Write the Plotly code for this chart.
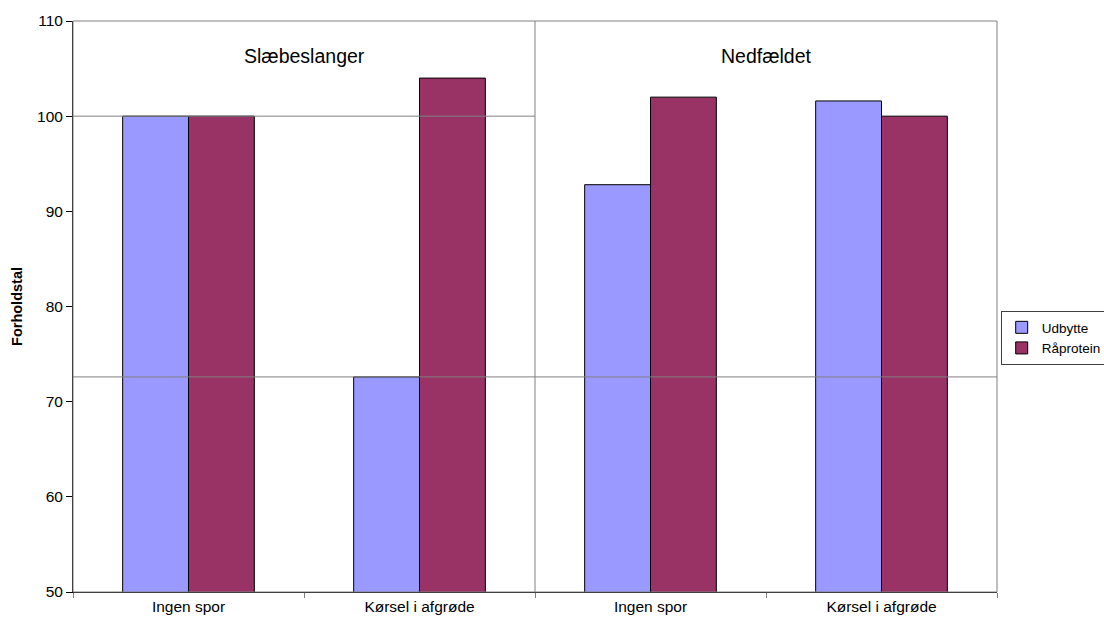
import plotly.graph_objects as go

categories = ["Ingen spor", "Kørsel i afgrøde", "Ingen spor", "Kørsel i afgrøde"]
groups = ["Slæbeslanger", "Nedfældet"]
udbytte = [100, 72.6, 92.8, 101.6]
raaprotein = [100, 104, 102, 100]
ref_lines = [100, 72.6]   # horizontal reference levels
y_ticks = [50, 60, 70, 80, 90, 100, 110]

xpos = list(range(len(categories)))
FONT = "Liberation Sans, Arial, sans-serif"

fig = go.Figure()
fig.add_trace(go.Bar(x=xpos, y=udbytte, name="Udbytte",
                     marker=dict(color="#9999FF", line=dict(color="black", width=1))))
fig.add_trace(go.Bar(x=xpos, y=raaprotein, name="Råprotein",
                     marker=dict(color="#993366", line=dict(color="black", width=1))))

shapes = [
    dict(type="rect", xref="paper", yref="paper", x0=0, x1=1, y0=0, y1=1,
         line=dict(color="#808080", width=1), layer="above"),
    dict(type="line", xref="x", yref="y", x0=-0.5, x1=1.5, y0=ref_lines[0], y1=ref_lines[0],
         line=dict(color="#808080", width=1), layer="above"),
    dict(type="line", xref="x", yref="y", x0=1.5, x1=1.5, y0=y_ticks[0], y1=y_ticks[-1],
         line=dict(color="#808080", width=1), layer="above"),
    dict(type="line", xref="x", yref="y", x0=-0.5, x1=3.5, y0=ref_lines[1], y1=ref_lines[1],
         line=dict(color="#808080", width=1), layer="above"),
]

annotations = [
    dict(x=0.5, y=106.3, xref="x", yref="y", text=groups[0], showarrow=False,
         font=dict(family=FONT, size=19.5, color="black")),
    dict(x=2.5, y=106.3, xref="x", yref="y", text=groups[1], showarrow=False,
         font=dict(family=FONT, size=19.5, color="black")),
]

fig.update_layout(
    width=1104, height=623,
    margin=dict(l=73, r=107, t=21, b=31, autoexpand=False),
    paper_bgcolor="white", plot_bgcolor="white",
    barmode="group", bargap=0.43, bargroupgap=0,
    font=dict(family=FONT, size=15.5, color="black"),
    shapes=shapes, annotations=annotations,
    legend=dict(x=1.004, y=0.492, xanchor="left", yanchor="top",
                bordercolor="#404040", borderwidth=1,
                font=dict(family=FONT, size=13.5, color="black"),
                tracegroupgap=0, itemwidth=30),
    xaxis=dict(range=[-0.5, 3.5], tickvals=xpos, ticktext=categories,
               ticks="", showline=True, linecolor="black", linewidth=1,
               showgrid=False, zeroline=False,
               tickfont=dict(family=FONT, size=15.5),
               minor=dict(tickvals=[-0.5, 0.5, 1.5, 2.5, 3.5], ticks="outside",
                          ticklen=5, tickcolor="#808080", showgrid=False)),
    yaxis=dict(range=[50, 110], tickvals=y_ticks, ticks="outside", ticklen=6,
               tickcolor="black", showline=True, linecolor="black", linewidth=1,
               showgrid=False, zeroline=False,
               tickfont=dict(family=FONT, size=15.5),
               title=dict(text="<b>Forholdstal</b>", standoff=10,
                          font=dict(family=FONT, size=14.5))),
)

fig.write_html("out.html")
